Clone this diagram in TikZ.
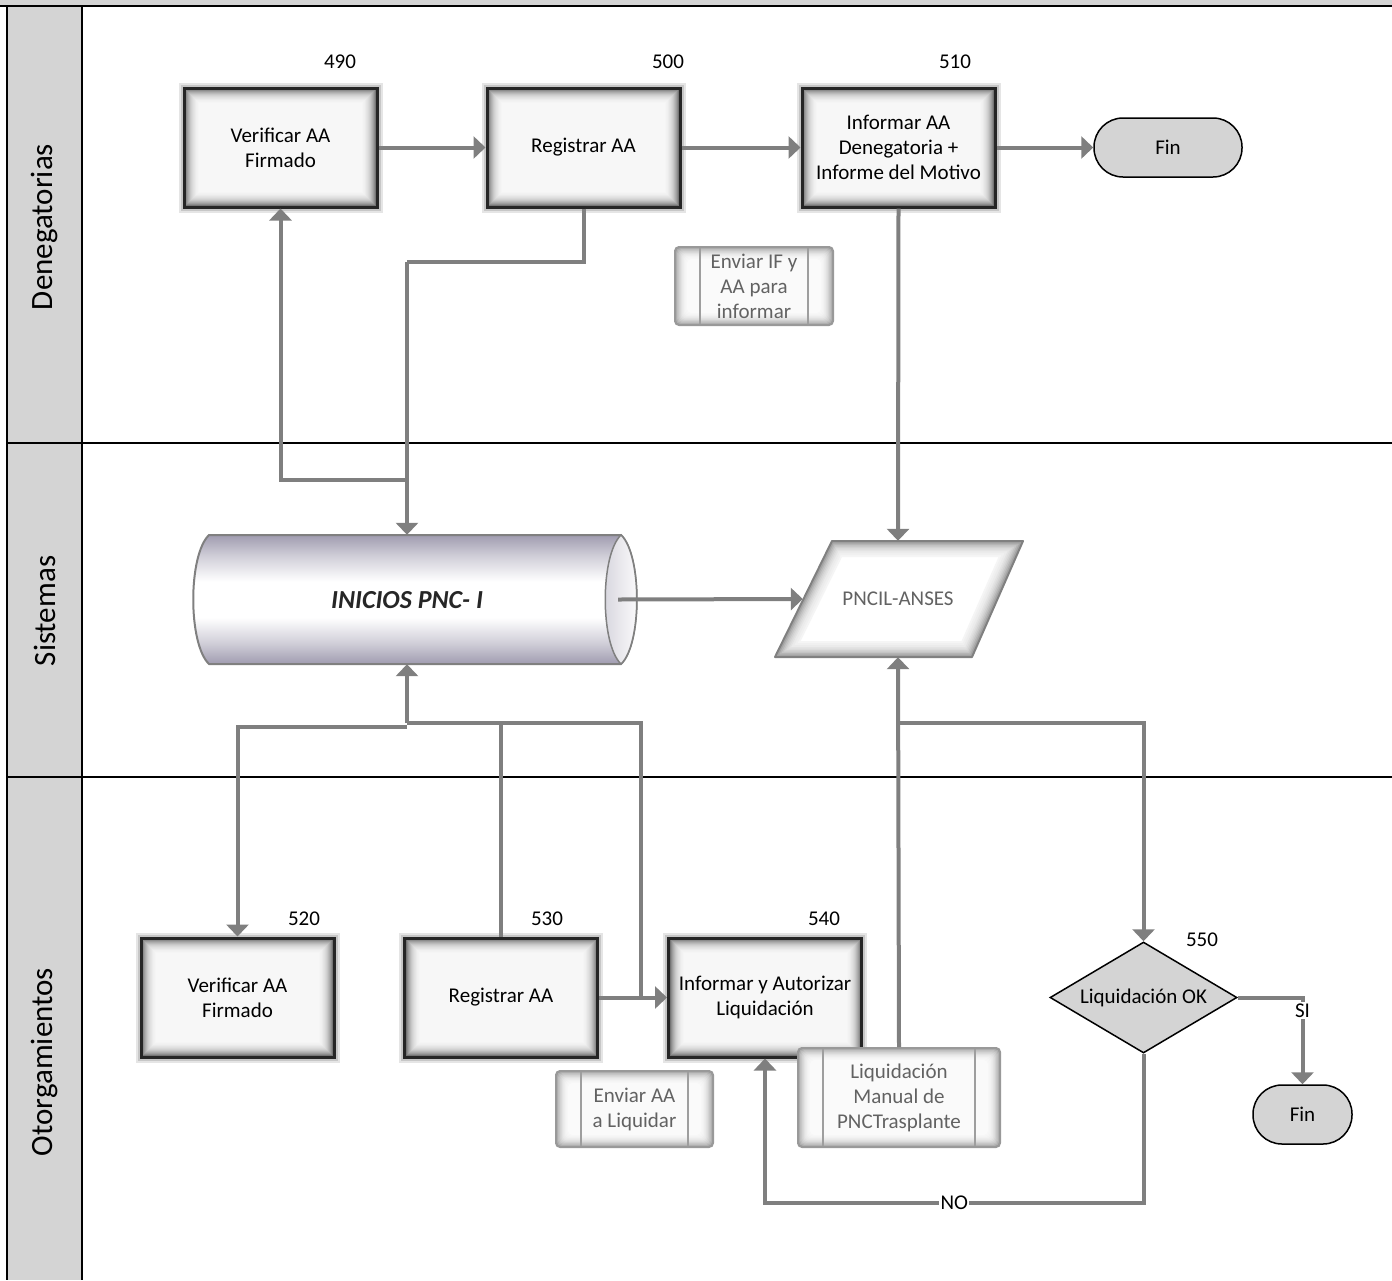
\documentclass[tikz,border=0pt]{standalone}
\usepackage{fontspec}
\setmainfont{Carlito}
\usetikzlibrary{arrows.meta,shapes.geometric,calc}
\definecolor{connc}{HTML}{7F7F7F}
\definecolor{lanegray}{HTML}{D4D4D4}
\definecolor{subtext}{HTML}{626262}
\definecolor{cylc}{HTML}{A09CB0}
\pgfdeclareverticalshading{cylshade}{100bp}{color(0bp)=(cylc); color(25bp)=(cylc); color(33bp)=(cylc!50!white); color(43bp)=(white); color(57bp)=(white); color(67bp)=(cylc!50!white); color(75bp)=(cylc); color(100bp)=(cylc)}
\newcommand{\boxfont}{\fontsize{21pt}{25pt}\selectfont}
\newcommand{\lanefont}{\fontsize{31pt}{36pt}\selectfont}
\newcommand{\cylfont}{\fontsize{26pt}{30pt}\selectfont\bfseries\itshape}
\tikzset{
  conn/.style={draw=connc, line width=4pt},
  arr/.style={conn, -{Triangle[length=12pt,width=22pt]}},
  glowdark/.style={path picture={
    \foreach \k/\g in {0/64,1/54,2/45,3/38,4/32,5/27,6/22,7/18,8/15,9/12,10/10,11/8,12/6,13/5,14/4,15/3}{
      \fill[black!\g] ([shift={(\k*1pt,\k*1pt)}]path picture bounding box.south west)
        rectangle ([shift={(-\k*1pt,-\k*1pt)}]path picture bounding box.north east);
    }}},
  glowlight/.style={path picture={
    \foreach \k/\g in {0/38,1/31,2/25,3/20,4/16,5/12,6/9,7/7,8/5,9/4,10/3,11/2}{
      \fill[black!\g] ([shift={(\k*1.1pt,\k*1.1pt)}]path picture bounding box.south west)
        rectangle ([shift={(-\k*1.1pt,-\k*1.1pt)}]path picture bounding box.north east);
    }
    \draw[black!38, line width=2pt] ([xshift=25pt]path picture bounding box.south west) -- ([xshift=25pt]path picture bounding box.north west);
    \draw[black!38, line width=2pt] ([xshift=-25pt]path picture bounding box.south east) -- ([xshift=-25pt]path picture bounding box.north east);
    }},
  proc/.style={draw=black!85, line width=3pt, minimum width=193pt, minimum height=119pt,
    inner sep=0pt, align=center, font=\boxfont, glowdark,
    preaction={draw=black!10, line width=11pt}, preaction={draw=black!22, line width=7pt}},
  subproc/.style={draw=black!40, line width=2pt, rounded corners=4pt, inner sep=0pt,
    align=center, font=\boxfont, text=subtext, glowlight},
  term/.style={draw=black, line width=1.5pt, fill=lanegray, rounded corners=29pt,
    minimum height=59pt, inner sep=0pt, font=\boxfont},
  numlbl/.style={font=\boxfont, inner sep=0pt},
  lanelbl/.style={font=\lanefont, rotate=90, inner sep=0pt},
  edgelbl/.style={font=\boxfont, fill=white, inner sep=1.5pt}
}
\begin{document}
\begin{tikzpicture}[x=1pt,y=-1pt]
\useasboundingbox (0,0) rectangle (1392,1280);
% title strip and lanes
\fill[lanegray] (0,0) rectangle (1392,6);
\fill[lanegray] (7,6) rectangle (82,1280);
\draw[line width=2.5pt] (0,6) -- (1392,6);
\draw[line width=2pt] (7,6) -- (7,1280);
\draw[line width=2pt] (82,6) -- (82,1280);
\draw[line width=2pt] (7,443) -- (1392,443);
\draw[line width=2pt] (7,777) -- (1392,777);
\node[lanelbl] (lDen) at (45,227) {Denegatorias};
\node[lanelbl] (lSis) at (45,611) {Sistemas};
\node[lanelbl] (lOto) at (45,1062) {Otorgamientos};

% step numbers
\node[numlbl] (n490) at (340,62) {490};
\node[numlbl] (n500) at (668,62) {500};
\node[numlbl] (n510) at (955,62) {510};
\node[numlbl] (n520) at (304,919) {520};
\node[numlbl] (n530) at (547,919) {530};
\node[numlbl] (n540) at (824,919) {540};
\node[numlbl] (n550) at (1202,940) {550};

% process boxes
\node[proc] (b490) at (280.5,147.5) {Verificar AA\\Firmado};
\node[proc] (b500) at (583.5,147.5) {Registrar AA};
\node[proc] (b510) at (898.5,147.5) {Informar AA\\Denegatoria +\\Informe del Motivo};
\node[proc] (b520) at (237.5,997.5) {Verificar AA\\Firmado};
\node[proc] (b530) at (501,997.5) {Registrar AA};
\node[proc] (b540) at (765,997.5) {Informar y Autorizar\\Liquidación};

% subprocess boxes
\node[subproc, minimum width=158pt, minimum height=78pt] (sIF) at (754,286) {Enviar IF y\\AA para\\informar};
\node[subproc, minimum width=157pt, minimum height=76pt] (sAA) at (634.5,1109) {Enviar AA\\a Liquidar};
\node[subproc, minimum width=202pt, minimum height=99pt] (sLM) at (899,1097.5) {Liquidación\\Manual de\\PNCTrasplante};

% terminators
\node[term, minimum width=148pt] (fin1) at (1168,147.5) {Fin};
\node[term, minimum width=99pt] (fin2) at (1302.5,1114.5) {Fin};

% decision
\node[diamond, draw=black, line width=1.5pt, fill=lanegray, aspect=1.68, inner sep=0pt,
  minimum width=187pt, minimum height=111pt, font=\boxfont] (diam) at (1143.5,997.5) {Liquidación OK};

% cylinder (database)
\node[minimum width=444pt, minimum height=129pt, inner sep=0pt] (cyl) at (415,599.5) {};
\path[draw=black!50, line width=2pt, shading=cylshade]
  (209,535) -- (621,535) .. controls (642,555) and (642,644) .. (621,664)
  -- (209,664) .. controls (188,644) and (188,555) .. (209,535) -- cycle;
\path[draw=black!50, line width=1.5pt, left color=cylc!45!white, right color=white]
  (621,535) .. controls (600,555) and (600,644) .. (621,664)
  .. controls (642,644) and (642,555) .. (621,535) -- cycle;
\node[font=\cylfont, text=black!85] (cyltxt) at (407,600) {INICIOS PNC- I};

% parallelogram (data)
\begin{scope}
  \clip (832,541) -- (1023,541) -- (972,657) -- (775,657) -- cycle;
  \fill[white] (775,541) rectangle (1023,657);
  \foreach \w/\g in {32/4,28/6,24/8,20/11,17/14,14/18,11/23,8/29,5/36}{
    \draw[black!\g, line width=\w pt, line join=round] (832,541) -- (1023,541) -- (972,657) -- (775,657) -- cycle;
  }
\end{scope}
\draw[black!50, line width=2pt, line join=round] (832,541) -- (1023,541) -- (972,657) -- (775,657) -- cycle;
\node[minimum width=190pt, minimum height=116pt, inner sep=0pt, font=\boxfont, text=subtext] (pncil) at (898,599) {PNCIL-ANSES};

% junction coordinates
\coordinate (jA) at (407,262);
\coordinate (jC) at (407,480);
\coordinate (jB) at (407,727);
\coordinate (jB2) at (407,723);
\coordinate (m641) at (641,997.5);
\coordinate (jD) at (898,723);
\coordinate (jE) at (1143.5,1203);

% connectors
\draw[arr] (b490.east) -- (b500.west);
\draw[arr] (b500.east) -- (b510.west);
\draw[arr] (b510.east) -- (fin1.west);
\draw[conn] (b500.south) |- (jA);
\draw[arr] (jA) -- (jA |- cyl.north);
\draw[arr] (jC) -| (b490.south);
\draw[arr] (b510.south) -- (pncil.north);
\draw[arr] ([xshift=-19pt]cyl.east) -- (pncil.west);
\draw[conn] (b530.north) |- (jB2);
\draw[conn] (m641) |- (jB2);
\draw[arr] (jB2) -- (jB2 |- cyl.south);
\draw[arr] (jB) -| (b520.north);
\draw[arr] (b530.east) -- (b540.west);
\draw[arr] (sLM.north) -- (pncil.south);
\draw[arr] (jD) -| (diam.north);
\draw[arr] (diam.east) -| (fin2.north) node[pos=0.575, edgelbl] {SI};
\draw[arr] (diam.south) -- (jE) -| (b540.south) node[pos=0.25, edgelbl] {NO};
\end{tikzpicture}
\end{document}
